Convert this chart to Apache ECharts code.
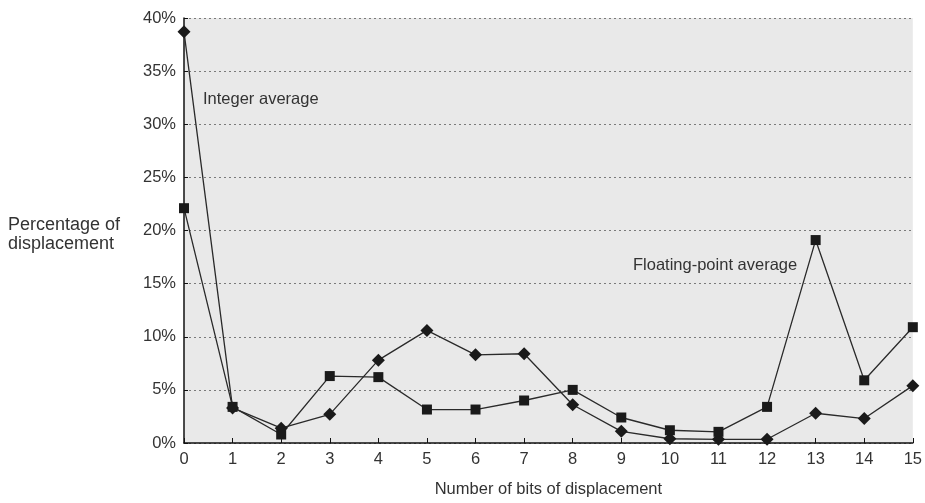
<!DOCTYPE html>
<html>
<head>
<meta charset="utf-8">
<script src="https://cdn.jsdelivr.net/npm/echarts@6/dist/echarts.min.js"></script>
<style>
html,body{margin:0;padding:0;background:#fff;}
#chart{width:925px;height:503px;}
</style>
</head>
<body>
<div id="chart"></div>
<script>
const categories = ['0','1','2','3','4','5','6','7','8','9','10','11','12','13','14','15'];
const integerAvg = [38.7, 3.3, 1.4, 2.7, 7.8, 10.6, 8.3, 8.4, 3.6, 1.1, 0.4, 0.35, 0.35, 2.8, 2.3, 5.4];
const floatAvg = [22.1, 3.4, 0.8, 6.3, 6.2, 3.15, 3.15, 4.0, 5.0, 2.4, 1.2, 1.05, 3.4, 19.1, 5.9, 10.9];
const yTicks = [0, 5, 10, 15, 20, 25, 30, 35, 40];

const chart = echarts.init(document.getElementById('chart'));
const font = 'Liberation Sans, Arial, sans-serif';
const fs = 16.5;
chart.setOption({
  animation: false,
  backgroundColor: '#ffffff',
  grid: {left: 184, right: 5, top: 18, bottom: 57, backgroundColor: '#e9e9e9', show: true, borderWidth: 0},
  xAxis: {
    type: 'category', data: categories, boundaryGap: false,
    name: 'Number of bits of displacement', nameLocation: 'middle', nameGap: 38,
    nameTextStyle: {fontFamily: font, fontSize: fs, color: '#333'},
    axisLine: {lineStyle: {color: '#111', width: 1.5}},
    axisTick: {inside: true, length: 5, lineStyle: {color: '#111'}},
    axisLabel: {fontFamily: font, fontSize: fs, color: '#333', margin: 8},
    splitLine: {show: false}
  },
  yAxis: {
    type: 'value', min: yTicks[0], max: yTicks[yTicks.length-1], interval: 5,
    axisLine: {show: true, lineStyle: {color: '#111', width: 1.5}},
    axisTick: {show: true, inside: true, length: 4, lineStyle: {color: '#111'}},
    axisLabel: {fontFamily: font, fontSize: fs, color: '#333', margin: 8, formatter: '{value}%'},
    splitLine: {show: true, lineStyle: {color: '#7a7a7a', type: [2, 3], width: 1}}
  },
  graphic: [
    {type: 'text', left: 8, top: 216, style: {text: 'Percentage of\ndisplacement', font: '18px ' + font, fill: '#333', lineHeight: 19}},
    {type: 'text', left: 203, top: 91, style: {text: 'Integer average', font: fs + 'px ' + font, fill: '#333'}},
    {type: 'text', left: 633, top: 257, style: {text: 'Floating-point average', font: fs + 'px ' + font, fill: '#333'}}
  ],
  series: [
    {name: 'Integer average', type: 'line', data: integerAvg, symbol: 'diamond', symbolSize: 13,
     itemStyle: {color: '#1a1a1a'}, lineStyle: {color: '#2a2a2a', width: 1.3}},
    {name: 'Floating-point average', type: 'line', data: floatAvg, symbol: 'rect', symbolSize: 10,
     itemStyle: {color: '#1a1a1a'}, lineStyle: {color: '#2a2a2a', width: 1.3}}
  ]
});
</script>
</body>
</html>
